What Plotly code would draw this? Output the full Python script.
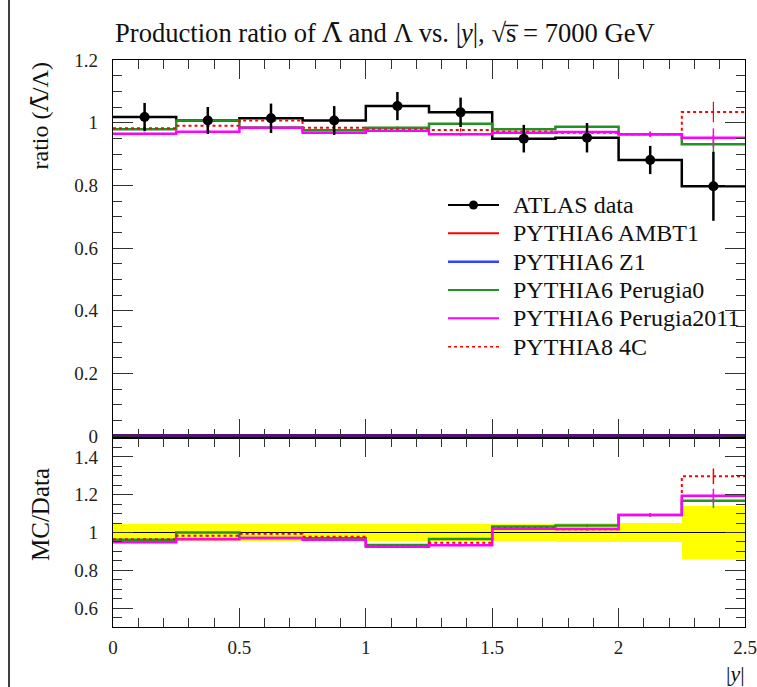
import plotly.graph_objects as go

# ---------------- data ----------------
bin_edges = [0.0, 0.25, 0.5, 0.75, 1.0, 1.25, 1.5, 1.75, 2.0, 2.25, 2.5]
data_vals = [1.018, 1.007, 1.014, 1.007, 1.053, 1.033, 0.949, 0.952, 0.881, 0.797]
data_err = [0.045, 0.043, 0.047, 0.046, 0.045, 0.047, 0.044, 0.047, 0.045, 0.110]
ambt1_vals = [0, 0, 0, 0, 0, 0, 0, 0, 0, 0]
z1_vals = [0, 0, 0, 0, 0, 0, 0, 0, 0, 0]
perugia0_vals = [0.979, 1.007, 0.985, 0.976, 0.984, 0.997, 0.979, 0.987, 0.963, 0.931]
perugia0_err = [0.004, 0.004, 0.004, 0.004, 0.004, 0.005, 0.005, 0.006, 0.008, 0.030]
perugia2011_vals = [0.965, 0.971, 0.984, 0.968, 0.974, 0.963, 0.968, 0.970, 0.963, 0.952]
perugia2011_err = [0.004, 0.004, 0.004, 0.004, 0.004, 0.005, 0.005, 0.006, 0.008, 0.030]
p8_4c_vals = [0.982, 0.990, 1.007, 0.984, 0.978, 0.977, 0.972, 0.968, 0.963, 1.034]
p8_4c_err = [0.004, 0.004, 0.004, 0.004, 0.004, 0.005, 0.005, 0.006, 0.008, 0.033]

upper_ticks = [0, 0.2, 0.4, 0.6, 0.8, 1.0, 1.2]
upper_ticklabels = ["0", "0.2", "0.4", "0.6", "0.8", "1", "1.2"]
lower_ticks = [0.6, 0.8, 1.0, 1.2, 1.4]
lower_ticklabels = ["0.6", "0.8", "1", "1.2", "1.4"]
x_ticks = [0, 0.5, 1.0, 1.5, 2.0, 2.5]
x_ticklabels = ["0", "0.5", "1", "1.5", "2", "2.5"]

legend_names = ["ATLAS data", "PYTHIA6 AMBT1", "PYTHIA6 Z1", "PYTHIA6 Perugia0",
                "PYTHIA6 Perugia2011", "PYTHIA8 4C"]

# ---------------- derived ----------------
centers = [(bin_edges[i] + bin_edges[i + 1]) / 2 for i in range(len(bin_edges) - 1)]
widths = [bin_edges[i + 1] - bin_edges[i] for i in range(len(bin_edges) - 1)]


def steps(vals):
    return list(vals) + [vals[-1]]


FONT = "Liberation Serif"
GREEN = "#229322"
MAG = "#ff00ff"
TXT = "#111111"
LAMBAR = "<span style=\"font-family:'DejaVu Serif'\">\u039b\u0304</span>"

fig = go.Figure()

# ---------- upper panel ----------
fig.add_trace(go.Scatter(x=bin_edges, y=steps(data_vals), mode="lines", line_shape="hv",
                         line=dict(color="black", width=2.5), xaxis="x", yaxis="y",
                         showlegend=False))
fig.add_trace(go.Scatter(x=bin_edges, y=steps(ambt1_vals), mode="lines", line_shape="hv",
                         line=dict(color="red", width=4), xaxis="x", yaxis="y", showlegend=False))
fig.add_trace(go.Scatter(x=bin_edges, y=steps(z1_vals), mode="lines", line_shape="hv",
                         line=dict(color="#1a1aa0", width=4), opacity=0.75, xaxis="x", yaxis="y",
                         showlegend=False))
fig.add_trace(go.Scatter(x=bin_edges, y=steps(perugia0_vals), mode="lines", line_shape="hv",
                         line=dict(color=GREEN, width=2.5), xaxis="x", yaxis="y", showlegend=False))
fig.add_trace(go.Scatter(x=centers, y=perugia0_vals, mode="markers",
                         marker=dict(size=1, color=GREEN),
                         error_y=dict(array=perugia0_err, color=GREEN, thickness=1.5, width=0),
                         xaxis="x", yaxis="y", showlegend=False))
fig.add_trace(go.Scatter(x=bin_edges, y=steps(p8_4c_vals), mode="lines", line_shape="hv",
                         line=dict(color="red", width=2, dash="dot"), xaxis="x", yaxis="y",
                         showlegend=False))
fig.add_trace(go.Scatter(x=centers, y=p8_4c_vals, mode="markers",
                         marker=dict(size=1, color="red"),
                         error_y=dict(array=p8_4c_err, color="red", thickness=1.2, width=0),
                         xaxis="x", yaxis="y", showlegend=False))
fig.add_trace(go.Scatter(x=bin_edges, y=steps(perugia2011_vals), mode="lines", line_shape="hv",
                         line=dict(color=MAG, width=2.5), xaxis="x", yaxis="y", showlegend=False))
fig.add_trace(go.Scatter(x=centers, y=perugia2011_vals, mode="markers",
                         marker=dict(size=1, color=MAG),
                         error_y=dict(array=perugia2011_err, color=MAG, thickness=1.5, width=0),
                         xaxis="x", yaxis="y", showlegend=False))
fig.add_trace(go.Scatter(x=centers, y=data_vals, mode="markers",
                         marker=dict(size=10, color="black"),
                         error_y=dict(array=data_err, color="black", thickness=2.5, width=0),
                         xaxis="x", yaxis="y", showlegend=False))

# ---------- lower (ratio) panel ----------
rel_err = [e / v for e, v in zip(data_err, data_vals)]
fig.add_trace(go.Bar(x=centers, y=[2 * r for r in rel_err], base=[1 - r for r in rel_err],
                     width=widths, marker=dict(color="#ffff00", line=dict(width=0)),
                     xaxis="x2", yaxis="y2", showlegend=False))
fig.add_trace(go.Scatter(x=[bin_edges[0], bin_edges[-1]], y=[1, 1], mode="lines",
                         line=dict(color="black", width=1), xaxis="x2", yaxis="y2",
                         showlegend=False))


def ratio(vals):
    return [m / d for m, d in zip(vals, data_vals)]


def ratio_err(errs):
    return [e / d for e, d in zip(errs, data_vals)]


for vals, errs, color, width, dash in [
    (ambt1_vals, None, "red", 2.5, "solid"),
    (z1_vals, None, "blue", 2.5, "solid"),
    (perugia0_vals, perugia0_err, GREEN, 2.5, "solid"),
    (p8_4c_vals, p8_4c_err, "red", 2, "dot"),
    (perugia2011_vals, perugia2011_err, MAG, 2.5, "solid"),
]:
    fig.add_trace(go.Scatter(x=bin_edges, y=steps(ratio(vals)), mode="lines", line_shape="hv",
                             line=dict(color=color, width=width, dash=dash),
                             xaxis="x2", yaxis="y2", showlegend=False))
    if errs is not None:
        fig.add_trace(go.Scatter(x=centers, y=ratio(vals), mode="markers",
                                 marker=dict(size=1, color=color),
                                 error_y=dict(array=ratio_err(errs), color=color,
                                              thickness=1.5, width=0),
                                 xaxis="x2", yaxis="y2", showlegend=False))

# ---------- axes ----------
AX = dict(showline=True, linecolor="black", linewidth=1.2, mirror="allticks",
          ticks="inside", tickcolor="#333333", tickwidth=1.3, showgrid=False,
          zeroline=False, automargin=False,
          tickfont=dict(family=FONT, size=19, color="#222222"))
MINOR = dict(ticks="inside", ticklen=9, tickcolor="#333333", tickwidth=1.2, showgrid=False)

fig.update_layout(
    xaxis=dict(**AX, domain=[0, 1], range=[0, 2.5], anchor="y", matches="x2",
               tickvals=x_ticks, ticklen=19, showticklabels=False,
               minor=dict(**MINOR, dtick=0.1)),
    yaxis=dict(**AX, domain=[1 / 3, 1], range=[-0.006, 1.2], anchor="x",
               tickvals=upper_ticks, ticktext=upper_ticklabels, ticklen=20,
               ticklabelstandoff=10, minor=dict(**MINOR, dtick=0.05)),
    xaxis2=dict(**AX, domain=[0, 1], range=[0, 2.5], anchor="y2",
                tickvals=x_ticks, ticktext=x_ticklabels, ticklen=19, ticklabelstandoff=3,
                minor=dict(**MINOR, dtick=0.1)),
    yaxis2=dict(**AX, domain=[0, 1 / 3], range=[0.5, 1.5], anchor="x2",
                tickvals=lower_ticks, ticktext=lower_ticklabels, ticklen=20,
                ticklabelstandoff=10, minor=dict(**MINOR, dtick=0.05)),
)

# ---------- legend (drawn manually, rivet style) ----------
PX_L, PX_W = 113, 632
UP_B, UP_H = 438, 378


def xd(px):
    return (px - PX_L) / PX_W


def yd(py):
    return (UP_B - py) / UP_H


rows_py = [205, 233.3, 261.7, 290, 318.3, 346.7]
styles = [("black", 2, "solid"), ("red", 2, "solid"), ("#3344ff", 2.5, "solid"),
          (GREEN, 2, "solid"), (MAG, 2, "solid"), ("red", 1.6, "dot")]
shapes = []
annotations = []
for name, py, (col, w, dash) in zip(legend_names, rows_py, styles):
    shapes.append(dict(type="line", xref="x domain", yref="y domain",
                       x0=xd(448), x1=xd(499), y0=yd(py), y1=yd(py),
                       line=dict(color=col, width=w, dash=dash)))
    annotations.append(dict(text=name, xref="x domain", yref="y domain", x=xd(511), y=yd(py),
                            xanchor="left", yanchor="middle", showarrow=False,
                            font=dict(family=FONT, size=24, color=TXT)))
shapes.append(dict(type="circle", xref="x domain", yref="y domain",
                   xsizemode="pixel", ysizemode="pixel", xanchor=xd(473.5), yanchor=yd(rows_py[0]),
                   x0=-4.5, x1=4.5, y0=-4.5, y1=4.5,
                   fillcolor="black", line=dict(color="black", width=0)))

# page border on the left
shapes.append(dict(type="line", xref="paper", yref="paper",
                   x0=(9 - PX_L) / PX_W, x1=(9 - PX_L) / PX_W,
                   y0=(627 - 687) / 567, y1=(627 - 0) / 567,
                   line=dict(color="black", width=1.5)))

annotations += [
    dict(text="Production ratio of " + LAMBAR + " and \u039b vs. |<i>y</i>|, \u221as\u0305 = 7000 GeV",
         xref="paper", yref="paper", x=0, y=1 + (60 - 33) / 567, xanchor="left",
         yanchor="middle", showarrow=False, font=dict(family=FONT, size=26.6, color=TXT)),
    dict(text="ratio (" + LAMBAR + "/\u039b)", xref="paper", yref="paper", x=(40 - PX_L) / PX_W,
         y=1 - (61 - 60) / 567, xanchor="center", yanchor="top", textangle=-90,
         showarrow=False, font=dict(family=FONT, size=24, color=TXT)),
    dict(text="MC/Data", xref="paper", yref="paper", x=(40 - PX_L) / PX_W,
         y=(627 - 515) / 567, xanchor="center", yanchor="middle", textangle=-90,
         showarrow=False, font=dict(family=FONT, size=25, color=TXT)),
    dict(text="|<i>y</i>|", xref="paper", yref="paper", x=(735 - PX_L) / PX_W,
         y=(627 - 673) / 567, xanchor="center", yanchor="middle",
         showarrow=False, font=dict(family=FONT, size=22, color=TXT)),
]

fig.update_layout(
    width=757, height=687,
    margin=dict(l=113, r=12, t=60, b=60, autoexpand=False),
    paper_bgcolor="white", plot_bgcolor="white",
    showlegend=False, bargap=0,
    shapes=shapes, annotations=annotations,
    font=dict(family=FONT),
)

fig.write_html("out.html")
